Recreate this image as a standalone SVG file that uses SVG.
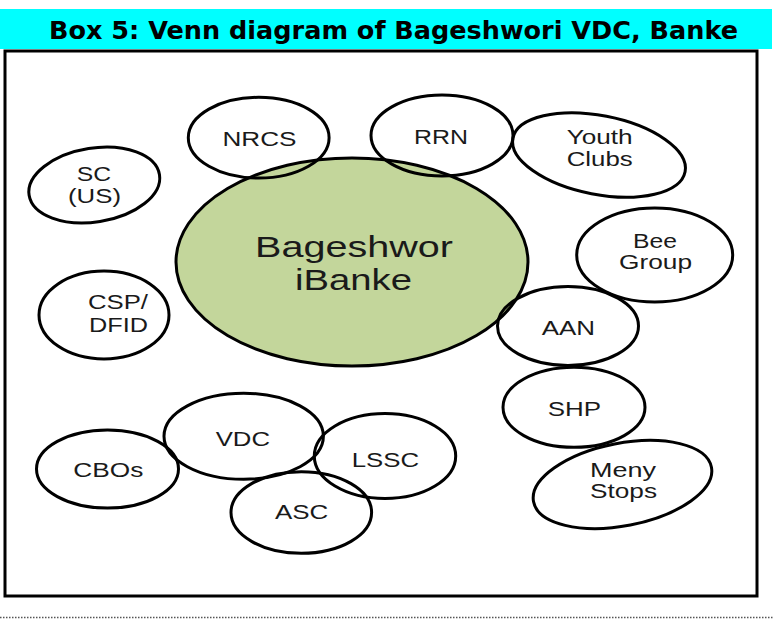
<svg xmlns="http://www.w3.org/2000/svg" width="774" height="623" viewBox="0 0 774 623">
  <style>
    .ring { fill: none; stroke: #000; stroke-width: 3; }
    .core { fill: #c3d69b; stroke: #000; stroke-width: 3; }
    .lbl { font-family: "Liberation Sans", Arial, sans-serif; font-size: 20px; fill: #1a1a1a; }
    .big { font-family: "Liberation Sans", Arial, sans-serif; font-size: 29px; fill: #1a1a1a; }
    .title { font-family: "DejaVu Sans", "Liberation Sans", sans-serif; font-size: 24px; font-weight: bold; fill: #000; }
  </style>

  <!-- heading band -->
  <rect x="0" y="9" width="772" height="40" fill="#00ffff"/>
  <text class="title" x="49" y="39" textLength="689" lengthAdjust="spacingAndGlyphs">Box 5: Venn diagram of Bageshwori VDC, Banke</text>

  <!-- frame -->
  <rect x="5" y="51" width="752" height="545" fill="#fff" stroke="#000" stroke-width="3"/>

  <!-- dotted rule below the frame -->
  <line x1="0" y1="617.5" x2="774" y2="617.5" stroke="#555" stroke-width="1.5" stroke-dasharray="1.5 1.5"/>

  <!-- centre -->
  <g id="bageshwori">
    <ellipse class="core" cx="352" cy="262" rx="176" ry="104"/>
    <text class="big" x="255" y="257" textLength="198" lengthAdjust="spacingAndGlyphs">Bageshwor</text>
    <text class="big" x="295" y="290" textLength="117" lengthAdjust="spacingAndGlyphs">iBanke</text>
  </g>

  <g id="nrcs">
    <ellipse class="ring" cx="258.7" cy="137.7" rx="70.4" ry="40.4"/>
    <text class="lbl" x="222.5" y="146" textLength="74" lengthAdjust="spacingAndGlyphs">NRCS</text>
  </g>

  <g id="rrn">
    <ellipse class="ring" cx="442" cy="135.5" rx="71" ry="40.5"/>
    <text class="lbl" x="414" y="144.3" textLength="54" lengthAdjust="spacingAndGlyphs">RRN</text>
  </g>

  <g id="youth-clubs">
    <ellipse class="ring" cx="599" cy="155" rx="87.7" ry="39.5" transform="rotate(11 599 155)"/>
    <text class="lbl" x="566.7" y="144" textLength="66" lengthAdjust="spacingAndGlyphs">Youth</text>
    <text class="lbl" x="566.7" y="165.7" textLength="66" lengthAdjust="spacingAndGlyphs">Clubs</text>
  </g>

  <g id="sc-us">
    <ellipse class="ring" cx="94.3" cy="185" rx="66" ry="37" transform="rotate(-9 94.3 185)"/>
    <text class="lbl" x="76.7" y="180.7" textLength="34.3" lengthAdjust="spacingAndGlyphs">SC</text>
    <text class="lbl" x="68" y="202.5" textLength="53" lengthAdjust="spacingAndGlyphs">(US)</text>
  </g>

  <g id="bee-group">
    <ellipse class="ring" cx="654.7" cy="255" rx="78" ry="47"/>
    <text class="lbl" x="633" y="247.7" textLength="44" lengthAdjust="spacingAndGlyphs">Bee</text>
    <text class="lbl" x="619" y="269" textLength="73" lengthAdjust="spacingAndGlyphs">Group</text>
  </g>

  <g id="csp-dfid">
    <ellipse class="ring" cx="104" cy="315" rx="65" ry="44"/>
    <text class="lbl" x="88" y="309" textLength="60" lengthAdjust="spacingAndGlyphs">CSP/</text>
    <text class="lbl" x="89" y="331.7" textLength="59" lengthAdjust="spacingAndGlyphs">DFID</text>
  </g>

  <g id="aan">
    <ellipse class="ring" cx="568" cy="326" rx="70.5" ry="39.5"/>
    <text class="lbl" x="541.7" y="335" textLength="53.3" lengthAdjust="spacingAndGlyphs">AAN</text>
  </g>

  <g id="shp">
    <ellipse class="ring" cx="574" cy="407.3" rx="71" ry="40"/>
    <text class="lbl" x="547.7" y="416" textLength="53.3" lengthAdjust="spacingAndGlyphs">SHP</text>
  </g>

  <g id="meny-stops">
    <ellipse class="ring" cx="622.5" cy="484.5" rx="90.6" ry="41.3" transform="rotate(-11 622.5 484.5)"/>
    <text class="lbl" x="590" y="476.5" textLength="66" lengthAdjust="spacingAndGlyphs">Meny</text>
    <text class="lbl" x="590" y="497.5" textLength="67" lengthAdjust="spacingAndGlyphs">Stops</text>
  </g>

  <g id="cbos">
    <ellipse class="ring" cx="107.5" cy="469" rx="71" ry="39"/>
    <text class="lbl" x="73.3" y="476.7" textLength="70" lengthAdjust="spacingAndGlyphs">CBOs</text>
  </g>

  <g id="vdc">
    <ellipse class="ring" cx="243.7" cy="436.3" rx="79.7" ry="43"/>
    <text class="lbl" x="215.7" y="445.7" textLength="54.3" lengthAdjust="spacingAndGlyphs">VDC</text>
  </g>

  <g id="lssc">
    <ellipse class="ring" cx="385" cy="456" rx="70.7" ry="42.5"/>
    <text class="lbl" x="351.7" y="466.7" textLength="67.3" lengthAdjust="spacingAndGlyphs">LSSC</text>
  </g>

  <g id="asc">
    <ellipse class="ring" cx="301.3" cy="512.5" rx="70.3" ry="40.8"/>
    <text class="lbl" x="275" y="519" textLength="53.3" lengthAdjust="spacingAndGlyphs">ASC</text>
  </g>

  <!-- this diagram has no connectors -->
  <g id="connectors"/>
</svg>
